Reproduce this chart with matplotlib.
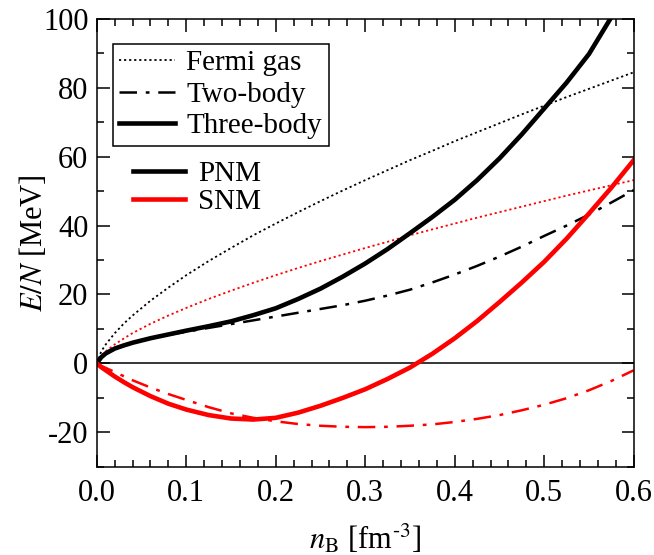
import numpy as np
import matplotlib
matplotlib.use("Agg")
import matplotlib.pyplot as plt
from matplotlib.lines import Line2D
from matplotlib.ticker import MultipleLocator

plt.rcParams['font.family'] = ['Liberation Serif', 'DejaVu Serif']
plt.rcParams['mathtext.fontset'] = 'stix'
plt.rcParams['axes.unicode_minus'] = False

# baryon density grid [fm^-3]
n_B = [0.0, 0.005, 0.01, 0.02, 0.03, 0.04, 0.06, 0.08, 0.10, 0.125,
       0.15, 0.175, 0.20, 0.225, 0.25, 0.275, 0.30, 0.325, 0.35, 0.375,
       0.40, 0.425, 0.45, 0.475, 0.50, 0.525, 0.55, 0.575, 0.60]

# pure neutron matter (PNM), E/N in MeV
pnm_fermi = [0.0, 3.5, 5.5, 8.75, 11.5, 13.9, 18.2, 22.0, 25.6, 29.7,
             33.5, 37.2, 40.6, 43.9, 47.1, 50.2, 53.2, 56.1, 59.0, 61.7,
             64.5, 67.1, 69.7, 72.3, 74.8, 77.3, 79.7, 82.1, 84.5]
pnm_two = [0.0, 1.8, 2.9, 4.3, 5.2, 6.0, 7.2, 8.3, 9.2, 10.3,
           11.4, 12.5, 13.6, 14.7, 15.8, 16.9, 18.2, 19.7, 21.4, 23.5,
           25.8, 28.3, 31.0, 33.9, 37.0, 40.0, 43.2, 46.7, 50.3]
pnm_three = [0.0, 1.8, 2.9, 4.3, 5.2, 6.0, 7.3, 8.4, 9.5, 10.8,
             12.2, 14.0, 16.0, 18.7, 21.7, 25.2, 29.0, 33.2, 37.8, 42.5,
             47.5, 53.2, 59.5, 66.5, 74.0, 81.5, 89.8, 100.5, 109.0]

# symmetric nuclear matter (SNM)
snm_fermi = [0.0, 2.2, 3.5, 5.5, 7.2, 8.8, 11.5, 13.9, 16.1, 18.7,
             21.1, 23.4, 25.6, 27.7, 29.7, 31.6, 33.5, 35.3, 37.2, 38.9,
             40.6, 42.3, 43.9, 45.5, 47.1, 48.7, 50.2, 51.7, 53.2]
snm_two = [0.0, -0.7, -1.3, -2.5, -3.7, -4.9, -7.0, -8.9, -10.6, -12.7,
           -14.5, -15.8, -16.8, -17.6, -18.1, -18.4, -18.5, -18.4, -18.1, -17.7,
           -17.0, -16.1, -15.0, -13.6, -12.0, -10.1, -7.8, -5.1, -2.0]
snm_three = [0.0, -1.1, -2.0, -3.8, -5.4, -6.9, -9.5, -11.7, -13.4, -15.0,
             -16.0, -16.3, -15.8, -14.3, -12.3, -10.0, -7.5, -4.5, -1.2, 2.8,
             7.3, 12.3, 17.8, 23.5, 29.5, 36.2, 43.5, 51.0, 59.0]

fig = plt.figure(figsize=(6.54, 5.55), dpi=100)
ax = fig.add_axes([0.148, 0.159, 0.821, 0.807])

dot = dict(ls=(0, (1.2, 1.6)), lw=1.3)
dashdot = dict(ls=(0, (7, 3.5, 1.5, 3.5)), lw=1.8)
solid = dict(ls='-', lw=3.3)

ax.axhline(0, color='black', lw=1.1)

ax.plot(n_B, pnm_fermi, color='black', **dot)
ax.plot(n_B, snm_fermi, color='red', **dot)
ax.plot(n_B, pnm_two, color='black', **dashdot)
ax.plot(n_B, snm_two, color='red', **dashdot)
ax.plot(n_B, pnm_three, color='black', **solid)
ax.plot(n_B, snm_three, color='red', **solid)

ax.set_xlim(0, 0.6)
ax.set_ylim(-30, 100)
ax.xaxis.set_major_locator(MultipleLocator(0.1))
ax.xaxis.set_minor_locator(MultipleLocator(0.02))
ax.yaxis.set_major_locator(MultipleLocator(20))
ax.yaxis.set_minor_locator(MultipleLocator(10))
ax.xaxis.set_major_formatter(plt.FormatStrFormatter('%.1f'))
ax.tick_params(which='both', direction='in', top=True, right=True,
               labelsize=22, width=1.1)
ax.tick_params(which='major', length=9, pad=6)
ax.tick_params(axis='x', which='major', pad=9)
ax.tick_params(which='minor', length=5)
for sp in ax.spines.values():
    sp.set_linewidth(1.1)

ax.set_xlabel(r'$n_\mathrm{B}$ [fm$^{\text{-3}}$]', fontsize=22, labelpad=10)
ax.set_ylabel(r'$E/N$ [MeV]', fontsize=22, labelpad=-4)

# line-style legend (framed)
style_handles = [
    Line2D([], [], color='black', **dot),
    Line2D([], [], color='black', **dashdot),
    Line2D([], [], color='black', **solid),
]
leg1 = ax.legend(style_handles, ['Fermi gas', 'Two-body', 'Three-body'],
                 loc='upper left', bbox_to_anchor=(0.03, 0.945),
                 borderaxespad=0, fontsize=21, frameon=True, fancybox=False,
                 edgecolor='black', framealpha=1, handlelength=1.9,
                 handletextpad=0.4, labelspacing=0.17, borderpad=0.22)
leg1.get_frame().set_linewidth(1.1)
ax.add_artist(leg1)

# matter-type legend (no frame)
matter_handles = [
    Line2D([], [], color='black', **solid),
    Line2D([], [], color='red', **solid),
]
ax.legend(matter_handles, ['PNM', 'SNM'], loc='upper left',
          bbox_to_anchor=(0.045, 0.71), borderaxespad=0, fontsize=21,
          frameon=False, handlelength=1.8, handletextpad=0.45,
          labelspacing=0.05)

fig.savefig('out.png', dpi=100)
